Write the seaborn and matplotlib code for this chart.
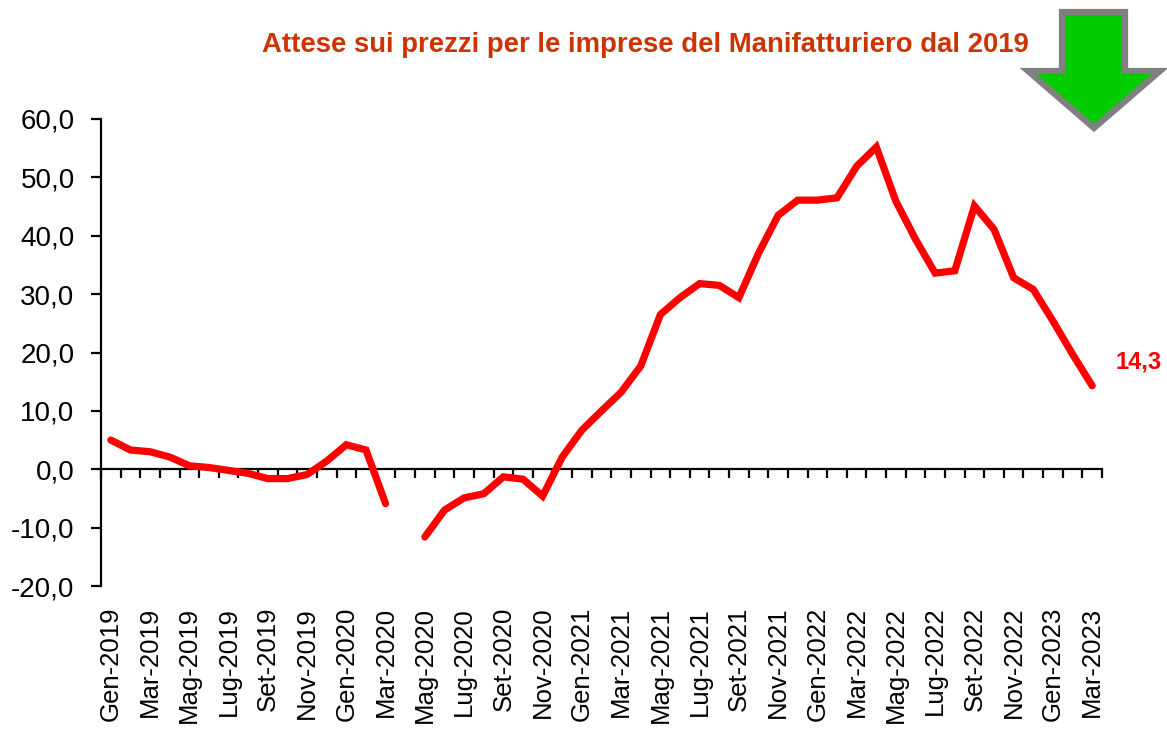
import numpy as np
import pandas as pd
import matplotlib
matplotlib.use("Agg")
import matplotlib.pyplot as plt
import seaborn as sns
from matplotlib.patches import Polygon

# ---------------- data ----------------
months = [
    "Gen-2019", "Feb-2019", "Mar-2019", "Apr-2019", "Mag-2019", "Giu-2019",
    "Lug-2019", "Ago-2019", "Set-2019", "Ott-2019", "Nov-2019", "Dic-2019",
    "Gen-2020", "Feb-2020", "Mar-2020", "Apr-2020", "Mag-2020", "Giu-2020",
    "Lug-2020", "Ago-2020", "Set-2020", "Ott-2020", "Nov-2020", "Dic-2020",
    "Gen-2021", "Feb-2021", "Mar-2021", "Apr-2021", "Mag-2021", "Giu-2021",
    "Lug-2021", "Ago-2021", "Set-2021", "Ott-2021", "Nov-2021", "Dic-2021",
    "Gen-2022", "Feb-2022", "Mar-2022", "Apr-2022", "Mag-2022", "Giu-2022",
    "Lug-2022", "Ago-2022", "Set-2022", "Ott-2022", "Nov-2022", "Dic-2022",
    "Gen-2023", "Feb-2023", "Mar-2023",
]
values = [
    5.0, 3.3, 3.0, 2.1, 0.6, 0.3, -0.2, -0.7, -1.6, -1.6, -0.9, 1.4,
    4.2, 3.3, -5.9, np.nan, -11.6, -7.0, -4.9, -4.2, -1.3, -1.7, -4.6, 2.1,
    6.7, 10.0, 13.2, 17.7, 26.5, 29.4, 31.8, 31.5, 29.4, 37.0, 43.5, 46.1,
    46.1, 46.5, 51.9, 55.2, 45.9, 39.4, 33.6, 34.0, 45.1, 41.1, 32.8, 30.8,
    25.4, 19.7, 14.3,
]
tick_labels = months[::2]
y_ticks = [-20, -10, 0, 10, 20, 30, 40, 50, 60]
title = "Attese sui prezzi per le imprese del Manifatturiero dal 2019"
last_label = "14,3"

# ---------------- style ----------------
sns.set_theme(style="white")
plt.rcParams["font.family"] = ["Liberation Sans", "DejaVu Sans"]
plt.rcParams["text.color"] = "black"
plt.rcParams["xtick.color"] = "black"
plt.rcParams["ytick.color"] = "black"
plt.rcParams["xtick.labelcolor"] = "black"
plt.rcParams["ytick.labelcolor"] = "black"

W, H = 1167, 731
fig = plt.figure(figsize=(W / 100, H / 100), dpi=100)
ax = fig.add_axes([101 / W, 1 - 586 / H, (1102 - 101) / W, (586 - 119) / H])

df = pd.DataFrame({"idx": np.arange(len(values)), "val": values})
df["seg"] = df["val"].isna().cumsum()
df = df.dropna()

sns.lineplot(data=df, x="idx", y="val", units="seg", estimator=None,
             color="#FF0000", linewidth=5.2, ax=ax, legend=False)
for ln in ax.lines:
    ln.set_solid_capstyle("round")
    ln.set_solid_joinstyle("miter")

ax.set_xlim(-0.5, len(values) - 0.5)
ax.set_ylim(-20, 60)
ax.set_xlabel("")
ax.set_ylabel("")

# y axis
ax.set_yticks(y_ticks)
ax.set_yticklabels([f"{v:.1f}".replace(".", ",") for v in y_ticks])
ax.tick_params(axis="y", direction="out", length=7, width=1.6, color="black",
               labelcolor="black", labelsize=20, pad=12, left=True)
for s in ["top", "right", "bottom"]:
    ax.spines[s].set_visible(False)
ax.spines["left"].set_color("black")
ax.spines["left"].set_linewidth(1.6)

# x labels at bottom (no tick marks)
ax.set_xticks(np.arange(0, len(values), 2))
ax.set_xticklabels(tick_labels, rotation=90)
ax.tick_params(axis="x", length=0, labelsize=18.5, pad=15, labelcolor="black")

# zero line with tick marks between categories
sec = ax.secondary_xaxis(0.25)
sec.set_xticks(np.arange(-0.5, len(values), 1))
sec.tick_params(axis="x", direction="out", length=6.5, width=1.6,
                color="black", labelbottom=False, labeltop=False)
sec.spines["bottom"].set_color("black")
sec.spines["bottom"].set_linewidth(1.6)

# last value label
ax.annotate(last_label, xy=(df["idx"].iloc[-1], df["val"].iloc[-1]),
            xytext=(17, 17), textcoords="offset points", ha="left",
            va="center", fontsize=17, fontweight="bold", color="#FF0000")

# title
fig.text(645 / W, 1 - 45 / H, title, ha="center", va="center", fontsize=19.8,
         fontweight="bold", color="#CC3300")

# green arrow (decoration)
pts = [(1062, 12), (1125, 12), (1125, 71), (1160, 71), (1094, 128),
       (1028, 71), (1062, 71)]
arrow = Polygon([(x / W, 1 - y / H) for x, y in pts], closed=True,
                transform=fig.transFigure, facecolor="#00CC00",
                edgecolor="#808080", linewidth=4.5, joinstyle="miter")
fig.patches.append(arrow)

fig.savefig("out.png", dpi=100)
